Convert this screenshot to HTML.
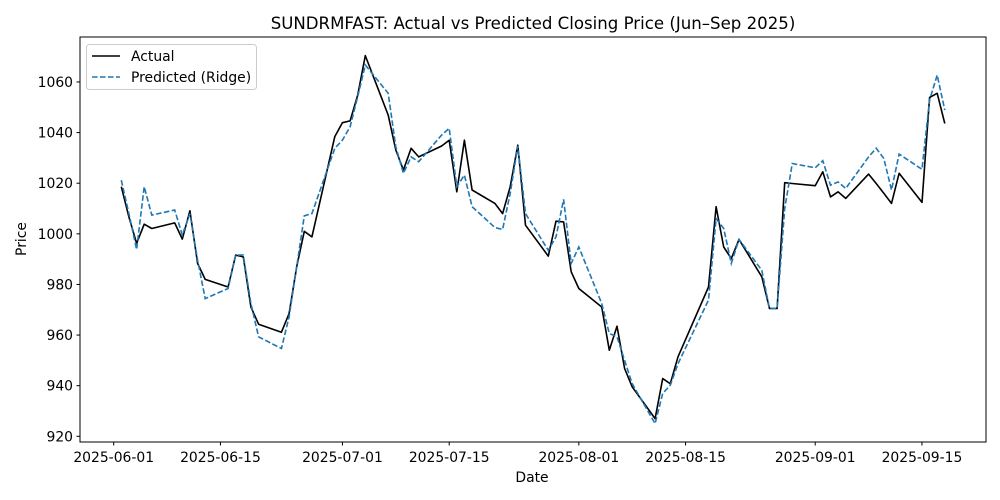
<!DOCTYPE html>
<html><head><meta charset="utf-8"><style>
html,body{margin:0;padding:0;background:#fff;}
svg{display:block;font-family:"DejaVu Sans","Liberation Sans",sans-serif;}
</style></head><body>
<svg id="chart" width="1000" height="500" viewBox="0 0 1000 500">
<rect width="1000" height="500" fill="#fff"/>
<text x="533" y="29" font-size="16.6" text-anchor="middle">SUNDRMFAST: Actual vs Predicted Closing Price (Jun–Sep 2025)</text>
<g id="yticks"></g>
<g id="xticks"></g>
<g id="lines"></g>
<rect x="80" y="37" width="906" height="405" fill="none" stroke="#000" stroke-width="1"/>
<text x="532" y="482" font-size="13.9" text-anchor="middle">Date</text>
<text transform="translate(26,239) rotate(-90)" font-size="13.9" text-anchor="middle">Price</text>
<g>
<rect x="86.5" y="44.5" width="170" height="45" rx="3" fill="#fff" fill-opacity="0.8" stroke="#ccc"/>
<g>
<line x1="92" y1="56" x2="120" y2="56" stroke="#000" stroke-width="1.6"/>
<text x="131" y="61" font-size="13.9">Actual</text></g>
<g>
<line x1="92" y1="77" x2="120" y2="77" stroke="#1f77b4" stroke-width="1.6" stroke-dasharray="5.6,2.4"/>
<text x="131" y="82" font-size="13.9">Predicted (Ridge)</text></g>
</g>
</svg>
<script>
const dates = ["2025-06-02","2025-06-03","2025-06-04","2025-06-05","2025-06-06","2025-06-09","2025-06-10","2025-06-11","2025-06-12","2025-06-13","2025-06-16","2025-06-17","2025-06-18","2025-06-19","2025-06-20","2025-06-23","2025-06-24","2025-06-25","2025-06-26","2025-06-27","2025-06-30","2025-07-01","2025-07-02","2025-07-03","2025-07-04","2025-07-07","2025-07-08","2025-07-09","2025-07-10","2025-07-11","2025-07-14","2025-07-15","2025-07-16","2025-07-17","2025-07-18","2025-07-21","2025-07-22","2025-07-23","2025-07-24","2025-07-25","2025-07-28","2025-07-29","2025-07-30","2025-07-31","2025-08-01","2025-08-04","2025-08-05","2025-08-06","2025-08-07","2025-08-08","2025-08-11","2025-08-12","2025-08-13","2025-08-14","2025-08-18","2025-08-19","2025-08-20","2025-08-21","2025-08-22","2025-08-25","2025-08-26","2025-08-27","2025-08-28","2025-08-29","2025-09-01","2025-09-02","2025-09-03","2025-09-04","2025-09-05","2025-09-08","2025-09-09","2025-09-10","2025-09-11","2025-09-12","2025-09-15","2025-09-16","2025-09-17","2025-09-18"];
const actual = [1018.6,1006.7,996.2,1003.8,1002.1,1004.3,997.9,1009.1,988.3,982,979,991.6,990.9,971.1,964.3,961.1,968.5,987,1001,998.8,1038.4,1043.9,1044.6,1054.8,1070.4,1046.9,1033.1,1025.2,1033.8,1030.4,1034.7,1037,1016.6,1037,1017.3,1012,1008,1018.6,1035,1003.4,991.2,1005,1004.7,985,978.4,971.1,954,963.5,946.8,939.5,927,942.8,940.8,951.4,979,1010.7,994.8,990.2,997.8,983,970.5,970.5,1020.2,1019.9,1019,1024.5,1014.6,1016.6,1014,1023.6,1019.9,1016,1012,1023.9,1012.4,1053.9,1055.5,1043.6];
const predicted = [1021.2,1008,993.8,1018.6,1007.4,1009.4,999.5,1008,989.6,974.4,978.4,991.6,991.6,972.5,959.3,954.7,967.2,987,1007.1,1008,1033.8,1037,1042.3,1054.2,1066.7,1055.5,1034.4,1023.9,1030.4,1028.5,1039,1041.7,1018.6,1023.2,1010.7,1002.5,1001.7,1016,1034.7,1008,993.5,998.8,1013.6,988.3,994.8,972.5,960.6,959.3,950,940.8,925,936.9,940.2,948.7,973.8,1006,1002.1,988.3,997.8,985.6,970.5,970.5,1010,1027.8,1026.1,1028.9,1019.2,1020.5,1017.9,1030.4,1033.8,1029.8,1017.3,1031.5,1025.5,1052.9,1062.7,1048.9];
const yTicks = [920,940,960,980,1000,1020,1040,1060];
const xTickLabels = ["2025-06-01","2025-06-15","2025-07-01","2025-07-15","2025-08-01","2025-08-15","2025-09-01","2025-09-15"];

const NS = "http://www.w3.org/2000/svg";
const DAY = 86400000;
const t0 = Date.UTC(2025,5,1);
function dayOf(s){const p=s.split("-");return (Date.UTC(+p[0],+p[1]-1,+p[2])-t0)/DAY;}
function xScale(s){return 113.7 + dayOf(s)*7.625;}
function yScale(v){return 436.3 - (v-920)*2.531;}

const yg = document.getElementById("yticks");
yTicks.forEach(v=>{
  const y = yScale(v);
  const l = document.createElementNS(NS,"line");
  l.setAttribute("x1",76.5);l.setAttribute("x2",80);l.setAttribute("y1",y);l.setAttribute("y2",y);l.setAttribute("stroke","#000");
  
  
  yg.appendChild(l);
  const t = document.createElementNS(NS,"text");
  t.setAttribute("x",73);t.setAttribute("y",y+5);t.setAttribute("font-size","13.9");t.setAttribute("text-anchor","end");
  t.textContent = v;
  
  
  yg.appendChild(t);
});
const xg = document.getElementById("xticks");
xTickLabels.forEach(s=>{
  const x = xScale(s);
  const l = document.createElementNS(NS,"line");
  l.setAttribute("x1",x);l.setAttribute("x2",x);l.setAttribute("y1",442);l.setAttribute("y2",445.5);l.setAttribute("stroke","#000");
  
  
  xg.appendChild(l);
  const t = document.createElementNS(NS,"text");
  t.setAttribute("x",x);t.setAttribute("y",462);t.setAttribute("font-size","13.9");t.setAttribute("text-anchor","middle");
  t.textContent = s;
  
  
  xg.appendChild(t);
});
function pts(vals){return vals.map((v,i)=>xScale(dates[i]).toFixed(1)+","+yScale(v).toFixed(1)).join(" ");}
const lg = document.getElementById("lines");
const a = document.createElementNS(NS,"polyline");
a.setAttribute("points",pts(actual));a.setAttribute("fill","none");a.setAttribute("stroke","#000");a.setAttribute("stroke-width","1.6");a.setAttribute("stroke-linejoin","round");


lg.appendChild(a);
const p = document.createElementNS(NS,"polyline");
p.setAttribute("points",pts(predicted));p.setAttribute("fill","none");p.setAttribute("stroke","#1f77b4");p.setAttribute("stroke-width","1.6");p.setAttribute("stroke-dasharray","5.6,2.4");


lg.appendChild(p);
</script>
</body></html>
